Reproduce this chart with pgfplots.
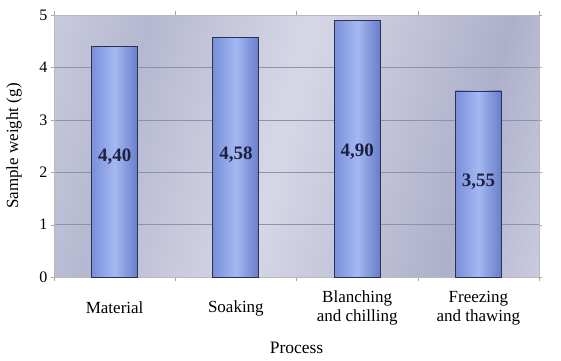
\documentclass[border=0pt]{standalone}
\usepackage{fontspec}
\setmainfont{Liberation Serif}
\usepackage{pgfplots}
\pgfplotsset{compat=1.18}
\definecolor{bgA}{HTML}{D8D9E7}
\definecolor{bgB}{HTML}{B6B8D1}
\definecolor{bgC}{HTML}{D6D7E6}
\definecolor{bgD}{HTML}{AEB0CB}
\definecolor{bgE}{HTML}{DCDDEA}
\definecolor{bgF}{HTML}{CDCFE0}
\definecolor{barL}{HTML}{7890DA}
\definecolor{barM}{HTML}{A4B8F2}
\definecolor{barR}{HTML}{687ECA}
\definecolor{barEdge}{HTML}{2E3050}
\definecolor{gridc}{HTML}{8E90AC}
\definecolor{lab}{HTML}{1E2040}
\pgfdeclarehorizontalshading{bgshade}{100bp}{color(0bp)=(bgA); color(10bp)=(bgA); color(30bp)=(bgB); color(48bp)=(bgC); color(70bp)=(bgD); color(88bp)=(bgE); color(100bp)=(bgF)}
\begin{document}
\begin{tikzpicture}
\path[use as bounding box] (0,0) rectangle (561pt,360pt);
\begin{axis}[
  at={(54pt,83pt)}, anchor=south west,
  width=485pt, height=262pt, scale only axis,
  xmin=-0.5, xmax=3.5, ymin=0, ymax=5,
  axis background/.style={shading=bgshade, shading angle=-15},
  axis line style={draw=gray!55},
  ybar, bar width=46pt, bar shift=0pt,
  xtick={0,1,2,3},
  xticklabels={Material, Soaking, {Blanching\\and chilling}, {Freezing\\and thawing}},
  major x tick style={draw=none},
  minor xtick={-0.5,0.5,1.5,2.5,3.5},
  minor x tick style={draw=gray!70},
  minor tick length=4pt,
  ytick={0,1,2,3,4,5},
  major tick length=3pt,
  tick align=outside,
  y tick style={draw=gray!70},
  ymajorgrids, grid style={gridc, line width=0.6pt},
  xticklabel style={font=\fontsize{17}{19.5}\selectfont, align=center, anchor=center, yshift=-28pt},
  yticklabel style={font=\fontsize{16}{18}\selectfont},
  xlabel={Process}, ylabel={Sample weight (g)},
  xlabel style={font=\fontsize{17.5}{20}\selectfont, at={(axis description cs:0.5,0)}, anchor=center, yshift=-71pt},
  ylabel style={font=\fontsize{17}{20}\selectfont, at={(axis description cs:0,0.5)}, anchor=center, rotate=0, yshift=40pt},
  /pgf/number format/assume math mode=true,
  nodes near coords={\pgfmathprintnumber[fixed, fixed zerofill, precision=2, use comma, assume math mode=true]{\pgfplotspointmeta}},
  every node near coord/.append style={font=\fontsize{19}{21}\selectfont\bfseries, text=lab, anchor=center},
  clip=false,
  bars/.style={ybar, draw=barEdge, line width=0.8pt, left color=barL, right color=barR, middle color=barM},
]
\addplot[bars, every node near coord/.append style={shift={(axis direction cs:0,-2.11)}}]
  coordinates {(0,4.40)};
\addplot[bars, every node near coord/.append style={shift={(axis direction cs:0,-2.25)}}]
  coordinates {(1,4.58)};
\addplot[bars, every node near coord/.append style={shift={(axis direction cs:0,-2.51)}}]
  coordinates {(2,4.90)};
\addplot[bars, every node near coord/.append style={shift={(axis direction cs:0,-1.74)}}]
  coordinates {(3,3.55)};
\end{axis}
\end{tikzpicture}
\end{document}
